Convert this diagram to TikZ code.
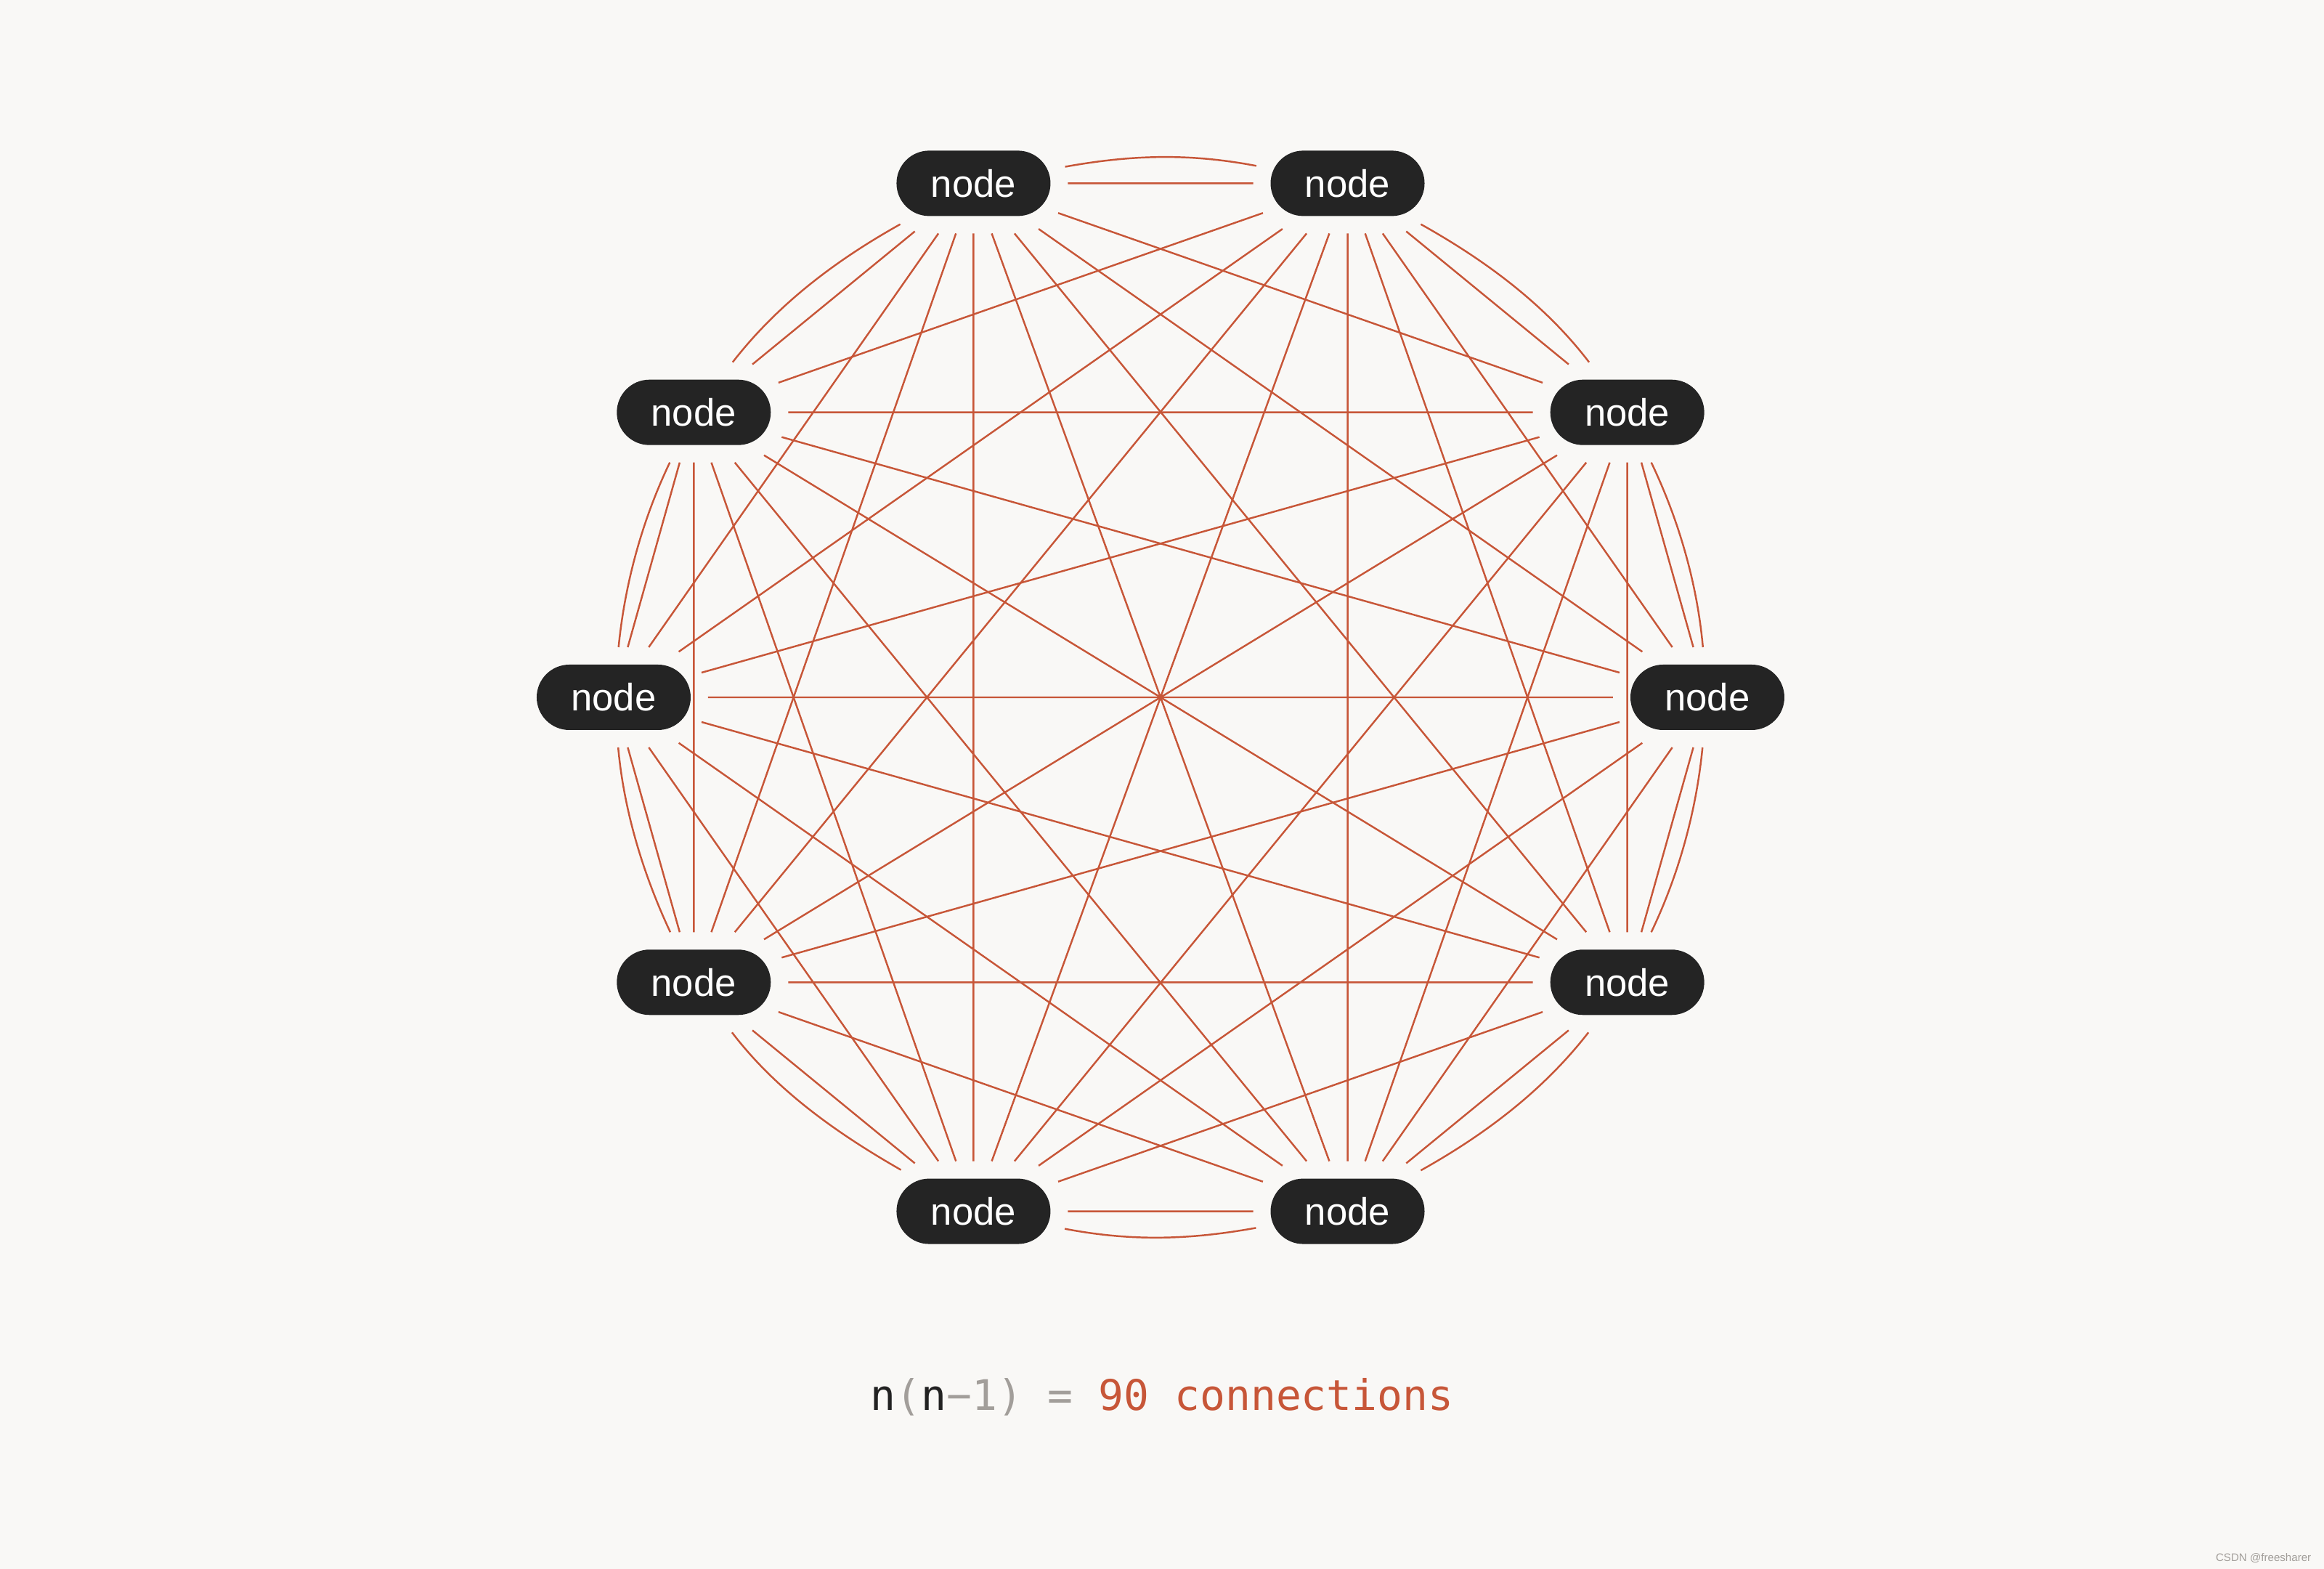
\documentclass[tikz,border=0pt]{standalone}
\usepackage{fontspec}
\setmainfont{Liberation Sans}
\setmonofont{DejaVu Sans Mono}
\usetikzlibrary{shapes.misc}
\definecolor{pagebg}{HTML}{F9F8F6}
\definecolor{nodebg}{HTML}{242424}
\definecolor{wire}{HTML}{C75638}
\definecolor{mute}{HTML}{A29E9A}
\definecolor{ink}{HTML}{222222}

\begin{document}
\begin{tikzpicture}
      \tikzstyle{every node}=[inner sep=0]
      \tikzstyle{peer}=[rounded rectangle,fill=nodebg,text=white,minimum width=2.12cm,minimum height=.9cm,outer sep=.24cm,font=\fontsize{15}{17}\selectfont]
      \tikzstyle{link}=[draw=wire,line width=.7pt]
      % page
      \fill [pagebg] (-15.98,-12) rectangle (16.02,9.6);
      % 
      \node [peer] (n0) at (0:7.53)     {node};
      \node [peer] (n1) at (31.4:7.53)  {node};
      \node [peer] (n2) at (70:7.53)    {node};
      \node [peer] (n3) at (110:7.53)   {node};
      \node [peer] (n4) at (148.6:7.53) {node};
      \node [peer] (n5) at (180:7.53)   {node};
      \node [peer] (n6) at (211.4:7.53) {node};
      \node [peer] (n7) at (250:7.53)   {node};
      \node [peer] (n8) at (290:7.53)   {node};
      \node [peer] (n9) at (328.6:7.53) {node};
      % 
      \foreach \i [evaluate=\i as \k using int(\i+1)] in {0,...,8}
        \foreach \j in {\k,...,9}
          \draw [link] (n\i) -- (n\j);
      % 
      \path[link]
      (n0) edge [out=95.25,in=-64.8,distance=.877cm]  (n1)
      (n1) edge [out=127.6,in=-29.4,distance=1.01cm]  (n2)
      (n2) edge [out=169.4,in=10.6,distance=.932cm]   (n3)
      (n3) edge [out=209.4,in=52.4,distance=1.01cm]   (n4)
      (n4) edge [out=244.8,in=84.75,distance=.877cm]  (n5)
      (n5) edge [out=275.25,in=115.2,distance=.877cm] (n6)
      (n6) edge [out=307.6,in=150.6,distance=1.01cm]  (n7)
      (n7) edge [out=349.4,in=190.6,distance=.932cm]  (n8)
      (n8) edge [out=29.4,in=232.4,distance=1.01cm]   (n9)
      (n9) edge [out=64.8,in=264.75,distance=.877cm]  (n0);
      % 
      \node [anchor=base,font=\ttfamily\fontsize{16.5}{18}\selectfont] (sum) at (.02,-9.82)
        {\color{ink}n\color{mute}(\color{ink}n\color{mute}−1) = \color{wire}90 connections};
      \node [anchor=base east,text=mute,font=\fontsize{4.3}{5}\selectfont] (mark) at (15.85,-11.9) {CSDN @freesharer};
\end{tikzpicture}
\end{document}
